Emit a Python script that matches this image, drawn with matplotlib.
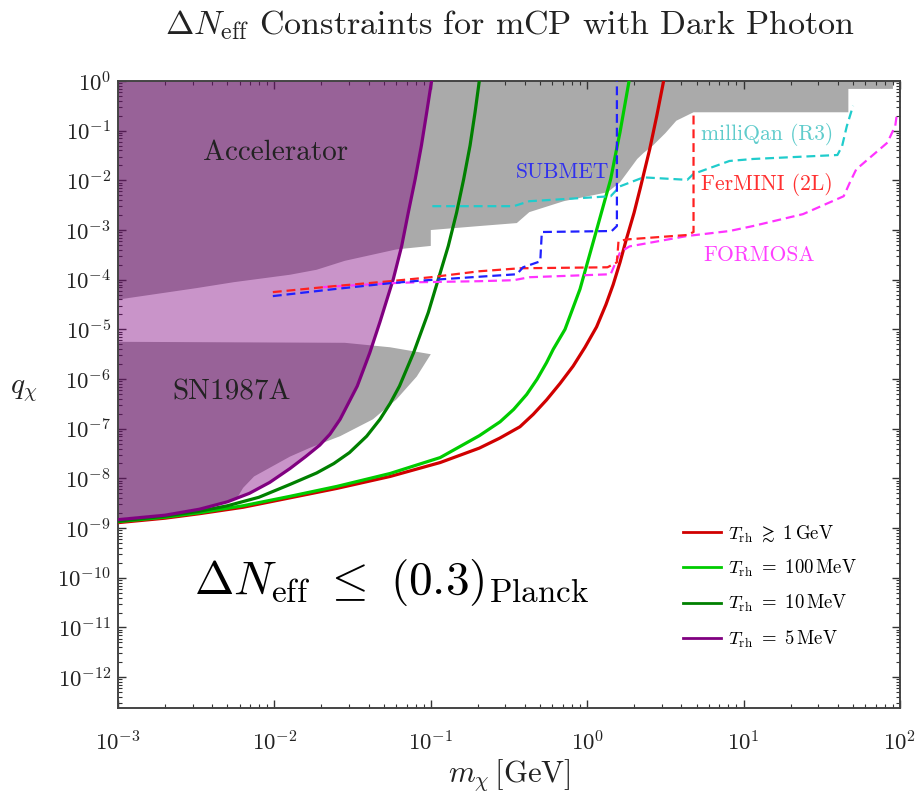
import matplotlib
matplotlib.use("Agg")
import matplotlib.pyplot as plt
import matplotlib.ticker as ticker
import numpy as np

plt.rcParams['mathtext.fontset'] = 'cm'
plt.rcParams['font.family'] = ['cmr10', 'DejaVu Serif']
plt.rcParams['axes.unicode_minus'] = False

# all curves as (log10 m, log10 q)
lx_1gev = [-3.00, -2.70, -2.48, -2.20, -1.90, -1.60, -1.26, -0.94, -0.69, -0.56, -0.43,
           -0.345, -0.26, -0.174, -0.09, -0.014, 0.06, 0.12, 0.166, 0.21, 0.25, 0.30,
           0.34, 0.40, 0.445, 0.49]
ly_1gev = [-8.89, -8.80, -8.71, -8.58, -8.39, -8.20, -7.96, -7.68, -7.39, -7.19, -6.96,
           -6.71, -6.42, -6.09, -5.74, -5.36, -4.95, -4.50, -4.10, -3.65, -3.19, -2.65,
           -2.15, -1.37, -0.70, 0.02]

lx_100mev = [-3.00, -2.70, -2.48, -2.20, -1.90, -1.60, -1.26, -0.94, -0.69, -0.557, -0.47,
             -0.387, -0.32, -0.26, -0.217, -0.142, -0.046, 0.06, 0.15, 0.188, 0.21, 0.27]
ly_100mev = [-8.87, -8.78, -8.69, -8.55, -8.36, -8.16, -7.90, -7.58, -7.14, -6.86, -6.61,
             -6.31, -6.00, -5.67, -5.40, -5.00, -4.19, -3.00, -1.98, -1.37, -1.03, 0.04]

lx_10mev = [-3.00, -2.70, -2.48, -2.30, -2.10, -1.90, -1.73, -1.62, -1.52, -1.41, -1.325,
            -1.26, -1.20, -1.11, -1.016, -0.952, -0.888, -0.835, -0.79, -0.749, -0.717, -0.689]
ly_10mev = [-8.86, -8.76, -8.66, -8.55, -8.38, -8.12, -7.89, -7.70, -7.48, -7.15, -6.81,
            -6.49, -6.14, -5.47, -4.66, -3.99, -3.32, -2.65, -1.98, -1.30, -0.63, 0.02]

lx_5mev = [-3.00, -2.70, -2.48, -2.30, -2.16, -2.03, -1.90, -1.80, -1.71, -1.645, -1.58,
           -1.47, -1.39, -1.325, -1.24, -1.186, -1.144, -1.10, -1.06, -1.026, -0.994]
ly_5mev = [-8.83, -8.74, -8.62, -8.47, -8.30, -8.08, -7.80, -7.56, -7.33, -7.11, -6.81,
           -6.14, -5.47, -4.85, -3.99, -3.32, -2.65, -1.98, -1.30, -0.63, 0.02]

# grey excluded regions
lx_accel = [-3.0, 1.955, 1.955, 1.67, 1.67, 0.68, 0.57, 0.50, 0.42, 0.36, 0.32, 0.21,
            0.13, -0.15, -0.37, -0.45, -0.69, -1.0, -1.0, -1.22, -1.55, -1.73, -1.90,
            -2.26, -2.5, -3.0]
ly_accel = [0.0, 0.0, -0.16, -0.16, -0.63, -0.63, -0.80, -1.05, -1.30, -1.45, -1.57, -2.04,
            -2.24, -2.42, -2.64, -2.86, -2.92, -3.0, -3.32, -3.39, -3.62, -3.80, -3.90,
            -4.05, -4.17, -4.40]

lx_sn = [-3.0, -1.55, -1.26, -1.0, -1.09, -1.22, -1.37, -1.58, -1.77, -1.90, -2.13,
         -2.20, -2.24, -2.48, -2.70, -3.0]
ly_sn = [-5.25, -5.27, -5.36, -5.50, -5.95, -6.41, -6.81, -7.15, -7.38, -7.56, -7.96,
         -8.19, -8.40, -8.60, -8.72, -8.81]

# projected sensitivities (dashed)
lx_submet = [-2.01, -1.62, -1.26, -1.07, -0.69, -0.45, -0.41, -0.30, -0.29, 0.157, 0.19, 0.19]
ly_submet = [-4.33, -4.19, -4.07, -4.02, -3.94, -3.89, -3.75, -3.63, -3.04, -3.02, -2.92, 0.0]

lx_fermini = [-2.01, -1.62, -1.26, -1.00, -0.69, -0.43, 0.13, 0.19, 0.20, 0.25, 0.64, 0.68, 0.68]
ly_fermini = [-4.25, -4.13, -4.03, -3.95, -3.83, -3.77, -3.75, -3.65, -3.23, -3.19, -3.10, -3.04, -0.63]

lx_formosa = [-1.69, -1.26, -1.07, -0.69, -0.47, -0.37, 0.15, 0.21, 0.27, 0.64, 0.91, 1.06,
              1.38, 1.64, 1.68, 1.72, 1.92, 1.97, 1.98]
ly_formosa = [-4.15, -4.07, -4.05, -4.03, -4.01, -3.95, -3.89, -3.45, -3.33, -3.12, -3.02, -2.92,
              -2.68, -2.32, -2.04, -1.78, -1.24, -0.90, -0.67]

lx_milliqan = [-0.99, -0.47, -0.37, 0.15, 0.21, 0.36, 0.64, 0.68, 0.91, 1.06, 1.60, 1.63, 1.66, 1.70]
ly_milliqan = [-2.52, -2.52, -2.42, -2.32, -2.12, -1.94, -1.99, -1.87, -1.61, -1.57, -1.49, -1.31,
               -0.91, -0.50]

x_decades = [-3, -2, -1, 0, 1, 2]
y_decades = [-12, -11, -10, -9, -8, -7, -6, -5, -4, -3, -2, -1, 0]


def p10(a):
    return np.power(10.0, np.array(a, dtype=float))


fig = plt.figure(figsize=(9.19, 7.97), dpi=100)
ax = fig.add_axes([0.1284, 0.1117, 0.8509, 0.7867])
ax.set_xscale('log')
ax.set_yscale('log')
ax.set_xlim(1e-3, 1e2)
ax.set_ylim(10 ** -12.62, 1.0)

grey = '#aaaaaa'
ax.fill(p10(lx_accel), p10(ly_accel), color=grey, lw=0, zorder=1)
ax.fill(p10(lx_sn), p10(ly_sn), color=grey, lw=0, zorder=1)

# T_rh = 5 MeV excluded region, translucent purple
ax.fill_between(p10(lx_5mev), p10(ly_5mev), 1.0, color='#800080', alpha=0.42, lw=0, zorder=2)

ax.plot(p10(lx_1gev), p10(ly_1gev), color='#d00000', lw=2.3, zorder=4,
        label=r'$T_{\rm rh}\ \gtrsim\ 1\,{\rm GeV}$')
ax.plot(p10(lx_100mev), p10(ly_100mev), color='#00cc00', lw=2.3, zorder=4,
        label=r'$T_{\rm rh}\ =\ 100\,{\rm MeV}$')
ax.plot(p10(lx_10mev), p10(ly_10mev), color='#008000', lw=2.3, zorder=4,
        label=r'$T_{\rm rh}\ =\ 10\,{\rm MeV}$')
ax.plot(p10(lx_5mev), p10(ly_5mev), color='#800080', lw=2.3, zorder=4,
        label=r'$T_{\rm rh}\ =\ 5\,{\rm MeV}$')

dash = (0, (4, 2.2))
ax.plot(p10(lx_milliqan), p10(ly_milliqan), color='#20cccc', lw=1.6, ls=dash, zorder=5)
ax.plot(p10(lx_formosa), p10(ly_formosa), color='#ff33ff', lw=1.6, ls=dash, zorder=5)
ax.plot(p10(lx_fermini), p10(ly_fermini), color='#ff2020', lw=1.6, ls=dash, zorder=5)
ax.plot(p10(lx_submet), p10(ly_submet), color='#2020ff', lw=1.6, ls=dash, zorder=5)

# labels inside the plot
ax.text(0.2013, 0.8848, 'Accelerator', transform=ax.transAxes, ha='center', va='center',
        fontsize=21, color='#222222', zorder=6)
ax.text(0.1448, 0.5033, 'SN1987A', transform=ax.transAxes, ha='center', va='center',
        fontsize=21, color='#222222', zorder=6)
ax.text(0.5678, 0.8549, 'SUBMET', transform=ax.transAxes, ha='center', va='center',
        fontsize=15.5, color='#3030ee', zorder=6)
ax.text(0.8299, 0.9139, 'milliQan (R3)', transform=ax.transAxes, ha='center', va='center',
        fontsize=15.5, color='#60cccc', zorder=6)
ax.text(0.8299, 0.8341, 'FerMINI (2L)', transform=ax.transAxes, ha='center', va='center',
        fontsize=15.5, color='#ff3030', zorder=6)
ax.text(0.8197, 0.7225, 'FORMOSA', transform=ax.transAxes, ha='center', va='center',
        fontsize=15.5, color='#ff40ff', zorder=6)
ax.text(0.3504, 0.200, r'$\Delta N_{\rm eff}\ \leq\ (0.3)_{\rm Planck}$', transform=ax.transAxes,
        ha='center', va='center', fontsize=34, color='black', zorder=6)

leg = ax.legend(loc='upper left', bbox_to_anchor=(0.711, 0.309), frameon=False, fontsize=13.5,
                handlelength=2.0, handletextpad=0.4, labelspacing=0.75, borderpad=0)
for ln in leg.get_lines():
    ln.set_linewidth(2.0)

fig.text(0.555, 0.9686, r'$\Delta N_{\rm eff}$ Constraints for mCP with Dark Photon',
         ha='center', va='center', fontsize=24.5, color='#222222')

ax.set_xlabel(r'$m_\chi\,[{\rm GeV}]$', fontsize=22, labelpad=2, color='#222222')
ax.set_ylabel(r'$q_\chi$', fontsize=21, rotation=0, color='#222222')
ax.yaxis.set_label_coords(-0.121, 0.485)

fmt = ticker.FuncFormatter(lambda v, pos: r'$10^{%d}$' % int(round(np.log10(v))))
ax.xaxis.set_major_locator(ticker.FixedLocator(p10(x_decades)))
ax.yaxis.set_major_locator(ticker.FixedLocator(p10(y_decades)))
ax.xaxis.set_minor_locator(ticker.LogLocator(base=10, subs=np.arange(2, 10), numticks=30))
ax.yaxis.set_minor_locator(ticker.LogLocator(base=10, subs=np.arange(2, 10), numticks=30))
ax.xaxis.set_major_formatter(fmt)
ax.yaxis.set_major_formatter(fmt)
ax.xaxis.set_minor_formatter(ticker.NullFormatter())
ax.yaxis.set_minor_formatter(ticker.NullFormatter())
ax.tick_params(which='both', direction='in', top=True, right=True, colors='#333333',
               labelcolor='#222222', labelsize=16.5)
ax.tick_params(which='major', length=6, width=1.0)
ax.tick_params(which='minor', length=3, width=0.8)
ax.tick_params(axis='x', pad=16)
ax.tick_params(axis='y', pad=5)
for s in ax.spines.values():
    s.set_color('#444444')
    s.set_linewidth(1.4)

fig.savefig('out.png', dpi=100)
